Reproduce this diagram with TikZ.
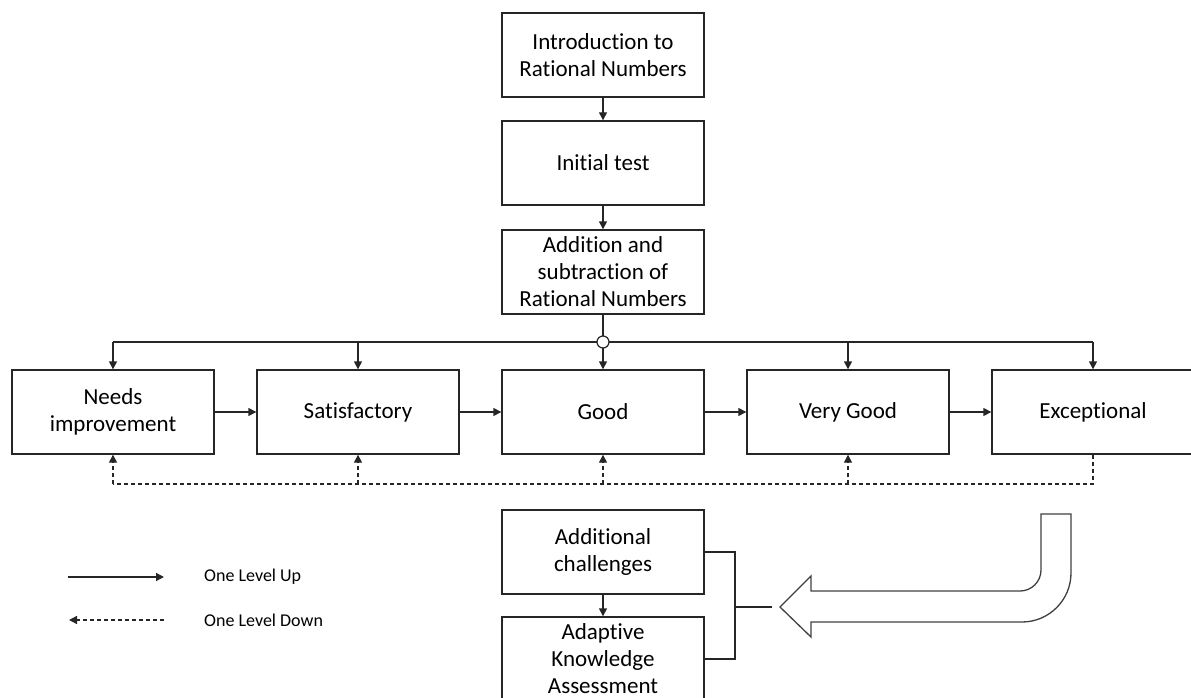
\documentclass[tikz,border=0pt]{standalone}
\usepackage{fontspec}
\setmainfont{Carlito}[Ligatures={NoCommon}]
\usetikzlibrary{arrows.meta}
\begin{document}
\begin{tikzpicture}[x=1pt,y=-1pt,
        box/.style={draw=black!85,line width=1.4pt,minimum width=202,minimum height=84,inner sep=0pt,align=center,font=\fontsize{23}{27}\selectfont},
        conn/.style={line width=1.4pt,black!85,-{Triangle[length=8pt,width=8pt]}},
        down/.style={conn,dash pattern=on 4pt off 3pt},
        legtext/.style={anchor=west,inner sep=0pt,font=\fontsize{18}{21}\selectfont}]
        \useasboundingbox (0,0) rectangle (1191,698);
        \node[box] (intro) at (603,55) {Introduction to\\Rational Numbers};
        \node[box] (init) at (603,163) {Initial test};
        \node[box] (addsub) at (603,272) {Addition and\\subtraction of\\Rational Numbers};
        \node[box] (needs) at (113,412) {Needs\\improvement};
        \node[box] (sat) at (358,412) {Satisfactory};
        \node[box] (good) at (603,412) {Good};
        \node[box] (vgood) at (848,412) {Very Good};
        \node[box] (exc) at (1093,412) {Exceptional};
        \node[box] (extra) at (603,552) {Additional\\challenges};
        \node[box] (akb) at (603,659) {Adaptive\\Knowledge\\Assessment};
        \coordinate (hubpt) at (603,342);
        \coordinate (dashy) at (603,484);
        \draw[conn] (intro) -- (init);
        \draw[conn] (init) -- (addsub);
        \draw[line width=1.4pt,black!85] (addsub) -- (hubpt);
        \draw[line width=1.4pt,black!85] (needs.north |- hubpt) -- (exc.north |- hubpt);
        \foreach \lvl in {needs,sat,good,vgood,exc}
            \draw[conn] (\lvl.north |- hubpt) -- (\lvl.north);
        \node[circle,draw=black!85,line width=1.2pt,fill=white,minimum size=12pt,inner sep=0pt] (hub) at (hubpt) {};
        \draw[conn] (needs) -- (sat);
        \draw[conn] (sat) -- (good);
        \draw[conn] (good) -- (vgood);
        \draw[conn] (vgood) -- (exc);
        % one level down
        \draw[line width=1.4pt,black!85,dash pattern=on 4pt off 3pt] (exc.south) -- (exc.south |- dashy) -- (needs.south |- dashy);
        \foreach \lvl in {needs,sat,good,vgood}
            \draw[down] (\lvl.south |- dashy) -- (\lvl.south);
        \draw[conn] (extra) -- (akb);
        \draw[line width=2.4pt,black!85] (extra.east) -- ++(30,0) coordinate (brk) |- (akb.east);
        \coordinate (tip) at (780,607);
        \draw[line width=2.2pt,black!85] (brk |- tip) -- ([xshift=-8]tip);
        % bent arrow
        \draw[line width=1.3pt,black!75] (tip) -- (811,576) -- (811,591) -- (1020,591)
            .. controls (1031.6,591) and (1041,581.6) .. (1041,570) -- (1041,514) -- (1071,514) -- (1071,573)
            .. controls (1071,600) and (1049,622) .. (1022,622) -- (811,622) -- (811,637) -- cycle;
        % legend
        \node[legtext] (uplbl) at (204,577) {One Level Up};
        \node[legtext] (downlbl) at (204,620) {One Level Down};
        \draw[conn] ([xshift=-136]uplbl.west) -- ([xshift=-40]uplbl.west);
        \draw[down] ([xshift=-40]downlbl.west) -- ([xshift=-135]downlbl.west);
    \end{tikzpicture}
\end{document}
